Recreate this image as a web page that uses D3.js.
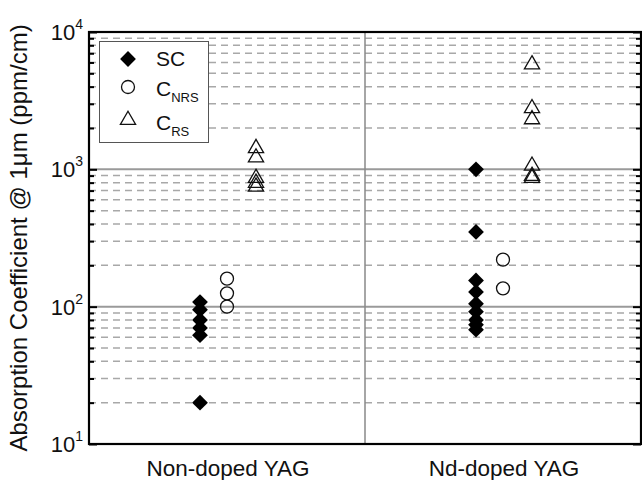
<!DOCTYPE html>
<html>
<head>
<meta charset="utf-8">
<script src="https://cdn.jsdelivr.net/npm/d3@7"></script>
<style>
  body { margin: 0; background: #fff; }
  svg { display: block; font-family: "Liberation Sans", Arial, sans-serif; }
</style>
</head>
<body>
<div id="chart"></div>
<script>
const categories = ["Non-doped YAG", "Nd-doped YAG"];
const seriesNames = ["SC", "C_NRS", "C_RS"];

// values (ppm/cm)
const scNonDoped = [108, 95, 80, 70, 62, 20];
const scNdDoped = [1000, 350, 155, 128, 105, 92, 80, 74, 68];
const cnrsNonDoped = [160, 125, 100];
const cnrsNdDoped = [220, 136];
const crsNonDoped = [1450, 1240, 880, 810, 760];
const crsNdDoped = [5900, 2830, 2350, 1080, 910, 880];

const majorTicks = [10, 100, 1000, 10000];
const tickExponents = ["1", "2", "3", "4"];

const W = 642, H = 480;
const plotL = 89, plotR = 641, plotT = 32, plotB = 444;

const svg = d3.select("#chart").append("svg")
  .attr("width", W).attr("height", H);

const x = d3.scaleBand().domain(categories).range([plotL, plotR]);
const y = d3.scaleLog().domain([10, 10000]).range([plotB, plotT]);

const minorTicks = [];
[10, 100, 1000].forEach(d => { for (let k = 2; k <= 9; k++) minorTicks.push(d * k); });

// grid
svg.append("g").selectAll("line").data(minorTicks).enter().append("line")
  .attr("x1", plotL).attr("x2", plotR)
  .attr("y1", d => y(d)).attr("y2", d => y(d))
  .attr("stroke", "#a8a8a8").attr("stroke-width", 1.5)
  .attr("stroke-dasharray", "7,5");

svg.append("g").selectAll("line").data([100, 1000]).enter().append("line")
  .attr("x1", plotL).attr("x2", plotR)
  .attr("y1", d => y(d)).attr("y2", d => y(d))
  .attr("stroke", "#9a9a9a").attr("stroke-width", 2);

// divider between categories
svg.append("line")
  .attr("x1", x(categories[1])).attr("x2", x(categories[1]))
  .attr("y1", plotT).attr("y2", plotB)
  .attr("stroke", "#888").attr("stroke-width", 1.5);

// axes ticks (inward)
const axL = svg.append("g").attr("transform", `translate(${plotL},0)`);
axL.call(d3.axisRight(y).tickValues(majorTicks).tickSize(8).tickFormat(""));
axL.append("g").call(d3.axisRight(y).tickValues(minorTicks).tickSize(5).tickFormat(""));
const axR = svg.append("g").attr("transform", `translate(${plotR},0)`);
axR.call(d3.axisLeft(y).tickValues(majorTicks).tickSize(8).tickFormat(""));
axR.append("g").call(d3.axisLeft(y).tickValues(minorTicks).tickSize(5).tickFormat(""));
svg.selectAll(".domain").remove();
svg.selectAll(".tick line").attr("stroke", "#000").attr("stroke-width", 2);

// frame
svg.append("rect")
  .attr("x", plotL).attr("y", plotT)
  .attr("width", plotR - plotL).attr("height", plotB - plotT)
  .attr("fill", "none").attr("stroke", "#000").attr("stroke-width", 2.2);

// y tick labels
majorTicks.forEach((d, i) => {
  const t = svg.append("text")
    .attr("x", 83).attr("y", y(d) + 8)
    .attr("text-anchor", "end")
    .attr("font-size", 22).attr("fill", "#111");
  t.append("tspan").text("10");
  t.append("tspan").attr("dy", -11).attr("font-size", 14).text(tickExponents[i]);
});

// axis titles
svg.append("text")
  .attr("transform", `translate(27,238) rotate(-90)`)
  .attr("text-anchor", "middle")
  .attr("font-size", 24).attr("fill", "#111")
  .text("Absorption Coefficient @ 1\u03bcm (ppm/cm)");

svg.selectAll(".xlab").data(categories).enter().append("text")
  .attr("class", "xlab")
  .attr("x", d => x(d) + x.bandwidth() / 2 + 1)
  .attr("y", 476)
  .attr("text-anchor", "middle")
  .attr("font-size", 22.5).attr("fill", "#111")
  .text(d => d);

// symbols
const diamond = d3.symbol().type(d3.symbolSquare).size(125);
const tri = d3.symbol().type(d3.symbolTriangle).size(100);
const offsets = { SC: -27, C_NRS: 0, C_RS: 29 };

function drawSeries(vals, cat, name) {
  const cx = x(cat) + x.bandwidth() / 2 + offsets[name];
  const g = svg.append("g");
  if (name === "SC") {
    g.selectAll("path").data(vals).enter().append("path")
      .attr("d", diamond)
      .attr("transform", d => `translate(${cx},${y(d)}) rotate(45)`)
      .attr("fill", "#000");
  } else if (name === "C_NRS") {
    g.selectAll("circle").data(vals).enter().append("circle")
      .attr("cx", cx).attr("cy", d => y(d)).attr("r", 6.5)
      .attr("fill", "none").attr("stroke", "#111").attr("stroke-width", 1.3);
  } else {
    g.selectAll("path").data(vals).enter().append("path")
      .attr("d", tri)
      .attr("transform", d => `translate(${cx},${y(d) + 1})`)
      .attr("fill", "none").attr("stroke", "#111").attr("stroke-width", 1.3);
  }
}

drawSeries(scNonDoped, categories[0], "SC");
drawSeries(scNdDoped, categories[1], "SC");
drawSeries(cnrsNonDoped, categories[0], "C_NRS");
drawSeries(cnrsNdDoped, categories[1], "C_NRS");
drawSeries(crsNonDoped, categories[0], "C_RS");
drawSeries(crsNdDoped, categories[1], "C_RS");

// legend
const lg = svg.append("g");
lg.append("rect")
  .attr("x", 99.5).attr("y", 41.5).attr("width", 109).attr("height", 101)
  .attr("fill", "#fff").attr("stroke", "#555").attr("stroke-width", 1);
lg.append("path").attr("d", diamond).attr("transform", "translate(128,59) rotate(45)").attr("fill", "#000");
lg.append("circle").attr("cx", 128).attr("cy", 87).attr("r", 6.5)
  .attr("fill", "none").attr("stroke", "#111").attr("stroke-width", 1.3);
lg.append("path").attr("d", tri).attr("transform", "translate(128,120)")
  .attr("fill", "none").attr("stroke", "#111").attr("stroke-width", 1.3);

lg.append("text").attr("x", 156).attr("y", 66).attr("font-size", 21).attr("fill", "#111").text("SC");
const t2 = lg.append("text").attr("x", 156).attr("y", 96).attr("font-size", 21).attr("fill", "#111");
t2.append("tspan").text("C");
t2.append("tspan").attr("dy", 6).attr("font-size", 13).text("NRS");
const t3 = lg.append("text").attr("x", 156).attr("y", 130).attr("font-size", 21).attr("fill", "#111");
t3.append("tspan").text("C");
t3.append("tspan").attr("dy", 6).attr("font-size", 13).text("RS");
</script>
</body>
</html>
